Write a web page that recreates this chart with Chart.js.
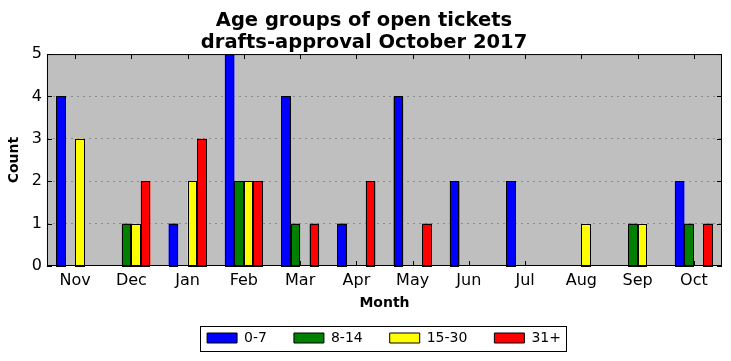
<!DOCTYPE html>
<html>
<head>
<meta charset="utf-8">
<script src="https://cdn.jsdelivr.net/npm/chart.js@4"></script>
<style>
  html, body { margin:0; padding:0; background:#fff; }
  #wrap { width:731px; height:361px; }
</style>
</head>
<body>
<div id="wrap"><canvas id="ageChart" width="731" height="361"></canvas></div>
<script>
const months = ["Nov","Dec","Jan","Feb","Mar","Apr","May","Jun","Jul","Aug","Sep","Oct"];
const age0to7   = [4,0,1,5,4,1,4,2,2,0,0,2];
const age8to14  = [0,1,0,2,1,0,0,0,0,0,1,1];
const age15to30 = [3,1,2,2,0,0,0,0,0,1,1,0];
const age31plus = [0,2,3,2,1,2,1,0,0,0,0,1];
const yTicks = [0,1,2,3,4,5];

const FONT = "'DejaVu Sans', sans-serif";
const LEGEND_CUT = 18;   // trim the space above the legend row
const LEGEND_SHIFT = 20; // legend sits centred under the plot, not the canvas

// matplotlib-ish frame, inward ticks, crisp bar edges, box round the legend
const framePlugin = {
  id: "frame",
  beforeLayout(chart){
    const lg = chart.legend;
    if(lg && !lg._cut){
      const fit = lg.fit;
      lg.fit = function(){ fit.call(this); this.height -= LEGEND_CUT; };
      lg._cut = true;
    }
  },
  afterLayout(chart){
    const lg = chart.legend;
    if(!lg) return;
    lg.left += LEGEND_SHIFT; lg.right += LEGEND_SHIFT;
    lg.top -= LEGEND_CUT;
  },
  beforeDraw(chart){
    const { ctx, chartArea:a } = chart;
    ctx.save();
    ctx.fillStyle = "#bfbfbf";
    ctx.fillRect(a.left, a.top, a.right - a.left, a.bottom - a.top);
    ctx.restore();
  },
  afterDatasetsDraw(chart){
    const { ctx } = chart;
    ctx.save();
    ctx.strokeStyle = "#000";
    ctx.lineWidth = 1;
    chart.data.datasets.forEach((d, di) => {
      chart.getDatasetMeta(di).data.forEach((el, i) => {
        if(!d.data[i]) return;
        const l = Math.round(el.x - el.width / 2);
        const r = Math.round(el.x + el.width / 2);
        const t = Math.round(el.y);
        const b = Math.round(el.base);
        ctx.strokeRect(l + 0.5, t + 0.5, r - l - 1, b - t);
      });
    });
    ctx.restore();
  },
  afterDraw(chart){
    const { ctx, chartArea:a, scales } = chart;
    ctx.save();
    ctx.strokeStyle = "#000";
    ctx.lineWidth = 1;
    ctx.strokeRect(a.left + 0.5, a.top + 0.5, a.right - a.left - 1, a.bottom - a.top - 1);
    ctx.beginPath();
    months.forEach((m, i) => {
      const x = Math.round(scales.x.getPixelForValue(i)) + 0.5;
      ctx.moveTo(x, a.bottom); ctx.lineTo(x, a.bottom - 5);
      ctx.moveTo(x, a.top); ctx.lineTo(x, a.top + 5);
    });
    yTicks.forEach(v => {
      const y = Math.round(scales.y.getPixelForValue(v)) + 0.5;
      ctx.moveTo(a.left, y); ctx.lineTo(a.left + 5, y);
      ctx.moveTo(a.right, y); ctx.lineTo(a.right - 5, y);
    });
    ctx.stroke();

    const lg = chart.legend;
    if(lg && lg.legendHitBoxes && lg.legendHitBoxes.length){
      const boxes = lg.legendHitBoxes;
      const l = boxes[0].left - 7;
      const last = boxes[boxes.length - 1];
      const r = last.left + last.width + 5;
      const t = boxes[0].top - 5;
      const b = boxes[0].top + boxes[0].height + 6;
      ctx.strokeRect(Math.round(l) + 0.5, Math.round(t) + 0.5, Math.round(r - l), Math.round(b - t));
    }
    ctx.restore();
  }
};

function ds(label, data, color){
  return {
    label, data,
    backgroundColor: color,
    borderWidth: 0,
    inflateAmount: 0
  };
}

new Chart(document.getElementById("ageChart"), {
  type: "bar",
  data: {
    labels: months,
    datasets: [
      ds("0-7", age0to7, "#0000ff"),
      ds("8-14", age8to14, "#008000"),
      ds("15-30", age15to30, "#ffff00"),
      ds("31+", age31plus, "#ff0000")
    ]
  },
  options: {
    responsive: false,
    animation: false,
    devicePixelRatio: 1,
    layout: { padding: { left: 6, right: 9, top: 0, bottom: 6 } },
    datasets: { bar: { categoryPercentage: 0.675, barPercentage: 1 } },
    plugins: {
      title: {
        display: true,
        text: ["Age groups of open tickets", "drafts-approval October 2017"],
        color: "#000",
        font: { family: FONT, size: 19.5, weight: "bold", lineHeight: 1.13 },
        padding: { top: 10, bottom: 0 }
      },
      legend: {
        position: "bottom",
        labels: {
          color: "#000",
          font: { family: FONT, size: 14 },
          boxWidth: 30,
          boxHeight: 10,
          padding: 27,
          generateLabels(chart){
            return chart.data.datasets.map((d, i) => ({
              text: d.label,
              fillStyle: d.backgroundColor,
              strokeStyle: "#000",
              lineWidth: 1,
              datasetIndex: i
            }));
          }
        }
      },
      tooltip: { enabled: false }
    },
    scales: {
      x: {
        grid: { display: false, drawTicks: false },
        border: { display: false },
        ticks: { color: "#000", font: { family: FONT, size: 16 }, padding: 5 },
        title: { display: true, text: "Month", color: "#000", font: { family: FONT, size: 14, weight: "bold" }, padding: { top: 0, bottom: 10 } }
      },
      y: {
        min: 0, max: 5,
        afterBuildTicks(scale){ scale.ticks = yTicks.map(v => ({ value: v })); },
        grid: {
          color: c => (c.tick.value === 0 || c.tick.value === 5) ? "rgba(0,0,0,0)" : "#8c8c8c",
          drawTicks: false,
          lineWidth: 1
        },
        border: { display: false, dash: [2, 4] },
        ticks: { color: "#000", font: { family: FONT, size: 16 }, padding: 5 },
        title: { display: true, text: "Count", color: "#000", font: { family: FONT, size: 14, weight: "bold" }, padding: { top: 0, bottom: 4 } }
      }
    }
  },
  plugins: [framePlugin]
});
</script>
</body>
</html>
